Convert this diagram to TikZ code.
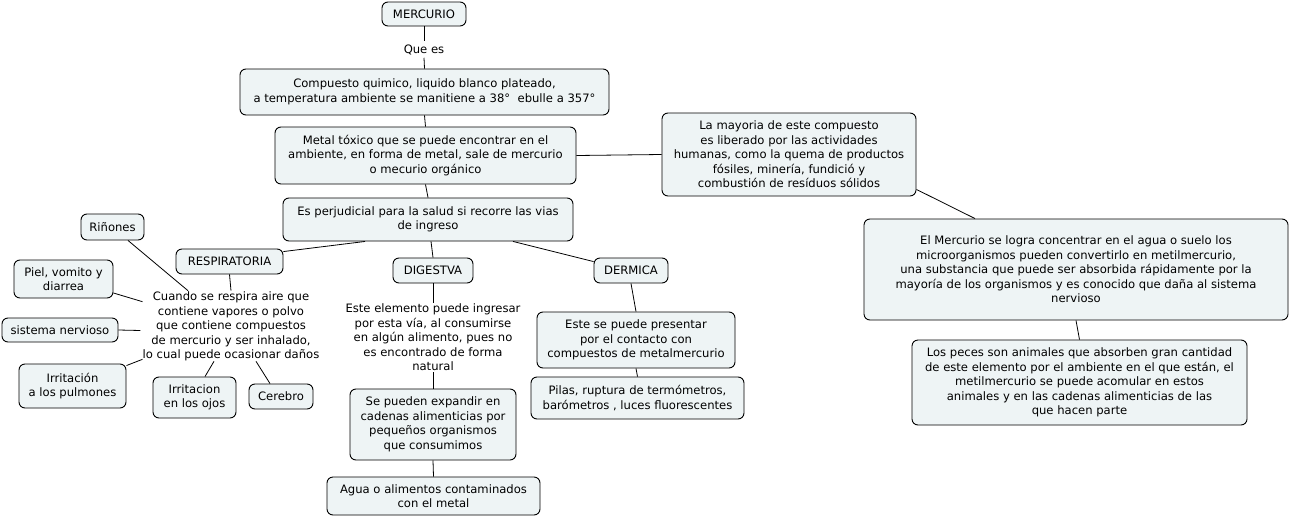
\documentclass[tikz,border=0pt]{standalone}
\usepackage{fontspec}
\setmainfont{DejaVu Sans}
\usetikzlibrary{calc}
\definecolor{boxfill}{HTML}{EEF4F5}
\tikzset{
  cbox/.style={draw=black, fill=boxfill, rounded corners=6pt, align=center, inner sep=0pt, line width=0.9pt},
  ctext/.style={align=center, inner sep=0pt},
  link/.style={draw=black, line width=0.8pt},
}
\begin{document}
\begin{tikzpicture}[x=1pt,y=-1pt,font=\fontsize{11.6}{14.5}\selectfont]
\useasboundingbox (0,0) rectangle (1291,517);
\fill[white] (0,0) rectangle (1291,517);
% boxed nodes
\node[cbox, minimum width=84pt, minimum height=24pt] (merc) at (424,14) {MERCURIO};
\node[ctext, inner sep=3pt] (quees) at (424,49.5) {Que es};
\node[cbox, minimum width=369pt, minimum height=46pt] (comp) at (424.5,92) {Compuesto quimico, liquido blanco plateado,\\a temperatura ambiente se manitiene a 38°~ ebulle a 357°};
\node[cbox, minimum width=301pt, minimum height=57pt] (metal) at (425.5,155.5) {Metal tóxico que se puede encontrar en el\\ambiente, en forma de metal, sale de mercurio\\o mecurio orgánico};
\node[cbox, minimum width=254pt, minimum height=83pt] (may) at (789,154.5) {La mayoria de este compuesto\\es liberado por las actividades\\humanas, como la quema de productos\\fósiles, minería, fundició y\\combustión de resíduos sólidos};
\node[cbox, minimum width=290pt, minimum height=43pt] (perj) at (428,219.5) {Es perjudicial para la salud si recorre las vias\\de ingreso};
\node[cbox, minimum width=107pt, minimum height=25pt] (resp) at (229.5,261.5) {RESPIRATORIA};
\node[cbox, minimum width=80pt, minimum height=25pt] (dig) at (433,270.5) {DIGESTVA};
\node[cbox, minimum width=74pt, minimum height=25pt] (derm) at (631,270.5) {DERMICA};
\node[ctext] (cuando) at (231,326.5) {Cuando se respira aire que\\contiene vapores o polvo\\que contiene compuestos\\de mercurio y ser inhalado,\\lo cual puede ocasionar daños};
\node[cbox, minimum width=63pt, minimum height=26pt] (rin) at (112.5,227) {Riñones};
\node[cbox, minimum width=99pt, minimum height=38pt] (piel) at (63.5,279) {Piel, vomito y\\diarrea};
\node[cbox, minimum width=116pt, minimum height=24pt] (sys) at (60,330) {sistema nervioso};
\node[cbox, minimum width=107pt, minimum height=44pt] (pul) at (72.5,386) {Irritación\\a los pulmones};
\node[cbox, minimum width=83pt, minimum height=41pt] (ojos) at (194.5,397.5) {Irritacion\\en los ojos};
\node[cbox, minimum width=64pt, minimum height=25pt] (cer) at (281,396.5) {Cerebro};
\node[ctext] (este) at (433,337.5) {Este elemento puede ingresar\\por esta vía, al consumirse\\en algún alimento, pues no\\es encontrado de forma\\natural};
\node[cbox, minimum width=166pt, minimum height=71pt] (sep) at (433,424.5) {Se pueden expandir en\\cadenas alimenticias por\\pequeños organismos\\que consumimos};
\node[cbox, minimum width=213pt, minimum height=38pt] (agua) at (433.5,496) {Agua o alimentos contaminados\\con el metal};
\node[cbox, minimum width=198pt, minimum height=56pt] (pres) at (636,340) {Este se puede presentar\\por el contacto con\\compuestos de metalmercurio};
\node[cbox, minimum width=213pt, minimum height=42pt] (pilas) at (637.5,398) {Pilas, ruptura de termómetros,\\barómetros , luces fluorescentes};
\node[cbox, minimum width=424pt, minimum height=101pt] (elm) at (1076,269.5) {El Mercurio se logra concentrar en el agua o suelo los\\microorganismos pueden convertirlo en metilmercurio,\\una substancia que puede ser absorbida rápidamente por la\\mayoría de los organismos y es conocido que daña al sistema\\nervioso};
\node[cbox, minimum width=335pt, minimum height=85pt] (peces) at (1079.5,382.5) {Los peces son animales que absorben gran cantidad\\de este elemento por el ambiente en el que están, el\\metilmercurio se puede acomular en estos\\animales y en las cadenas alimenticias de las\\que hacen parte};
% connectors
\draw[link] (merc.south) -- (quees.north);
\draw[link] (quees.south) -- (comp.north);
\draw[link] (comp.south) -- (metal.north);
\draw[link] (metal.east) -- (may.west);
\draw[link] (metal.south) -- (perj.north);
\draw[link] ($(perj.south)+(-63,0)$) -- ($(resp.north east)+(0,3)$);
\draw[link] ($(perj.south)+(3,0)$) -- (dig.north);
\draw[link] ($(perj.south)+(85,0)$) -- ($(derm.north west)+(0,4)$);
\draw[link] (resp.south) -- ($(cuando.north)+(0,-1)$);
\draw[link] ($(rin.south)+(15.5,0)$) -- ($(cuando.north)+(-43,-1)$);
\draw[link] ($(piel.east)+(0,14)$) -- ($(cuando.north west)+(0,10)$);
\draw[link] (sys.east) -- ($(cuando.west)+(-2,4)$);
\draw[link] ($(pul.north east)+(0,2)$) -- ($(cuando.south west)+(0,-2)$);
\draw[link] ($(ojos.north)+(10.5,0)$) -- ($(cuando.south)+(-17,0)$);
\draw[link] ($(cer.north)+(-11,0)$) -- ($(cuando.south)+(25,0)$);
\draw[link] (dig.south) -- ($(este.north)+(0,-1)$);
\draw[link] ($(este.south)+(0,1)$) -- (sep.north);
\draw[link] (sep.south) -- (agua.north);
\draw[link] (derm.south) -- (pres.north);
\draw[link] (pres.south) -- (pilas.north);
\draw[link] ($(may.south east)+(0,-7)$) -- ($(elm.north)+(-101,0)$);
\draw[link] (elm.south) -- (peces.north);
\end{tikzpicture}
\end{document}
